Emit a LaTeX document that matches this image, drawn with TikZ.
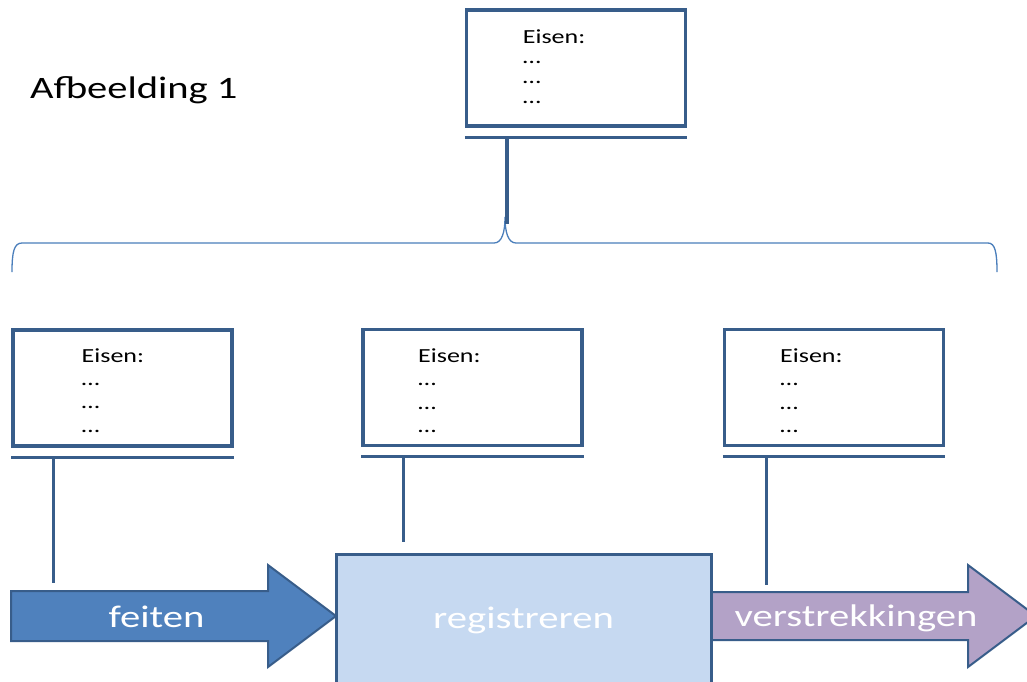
\documentclass[tikz,border=0pt]{standalone}
\usepackage{fontspec}
\setmainfont{Carlito}[FakeStretch=1.3]
\definecolor{edge}{HTML}{385D8A}
\definecolor{bracec}{HTML}{4A7EBB}
\definecolor{feitfill}{HTML}{4F81BD}
\definecolor{regfill}{HTML}{C6D9F1}
\definecolor{verfill}{HTML}{B3A2C7}
\begin{document}
\begin{tikzpicture}[x=1pt,y=-1pt,
  frame/.style={draw=edge,line width=3.2pt,fill=white,minimum width=219pt,minimum height=116pt,inner sep=0pt},
  bar/.style={draw=edge,line width=3pt},
  stem/.style={draw=edge,line width=3.2pt},
  txt/.style={anchor=base west,inner sep=0pt,font=\fontsize{20}{24}\selectfont},
  lbl/.style={anchor=base,inner sep=0pt,text=white,font=\fontsize{31.3}{37}\selectfont},
  arrowshape/.style={draw=edge,line width=2pt,line join=miter}]
\clip (0,0) rectangle (1027,681);
\fill[white] (0,0) rectangle (1027,681);

% title
\node[anchor=base west,inner sep=0pt,font=\fontsize{31.2}{37}\selectfont] (title) at (30,98) {Afbeelding 1};

% brace
\draw[bracec,line width=1.3pt] (12,272) .. controls (12,252) and (14,243) .. (22,243) -- (494,243)
  .. controls (502,243) and (505,232) .. (505,217) .. controls (505,232) and (508,243) .. (516,243)
  -- (988,243) .. controls (995,243) and (997,252) .. (997,272);

% boxes
\node[frame] (top) at (576,68) {};
\node[frame] (b1) at (122.5,388) {};
\node[frame] (b2) at (472.5,387.5) {};
\node[frame] (b3) at (834,387.5) {};

% under-bars
\foreach \b in {top,b1,b2,b3}{
  \draw[bar] ([yshift=-9.5pt]\b.south west) -- ([yshift=-9.5pt]\b.south east);
}

% stems
\coordinate (c0) at ([xshift=42.5pt,yshift=-9.5pt]top.south west);
\coordinate (c1) at ([xshift=42pt,yshift=-9.5pt]b1.south west);
\coordinate (c2) at ([xshift=42pt,yshift=-9.5pt]b2.south west);
\coordinate (c3) at ([xshift=43.5pt,yshift=-9.5pt]b3.south west);
\coordinate (s0) at (0,224);
\coordinate (s1) at (0,583);
\coordinate (s2) at (0,542);
\coordinate (s3) at (0,585);
\draw[stem,line width=4pt] (c0) -- (c0 |- s0);
\draw[stem] (c1) -- (c1 |- s1);
\draw[stem] (c2) -- (c2 |- s2);
\draw[stem] (c3) -- (c3 |- s3);

% texts in boxes
\foreach \t [count=\i] in {Eisen:,…,…,…}{
  \node[txt] (t0-\i) at (522.7,{43.3+(\i-1)*20}) {\t};
  \node[txt] (t1-\i) at (81.5,{362+(\i-1)*23.4}) {\t};
  \node[txt] (t2-\i) at (418,{362.5+(\i-1)*23.4}) {\t};
  \node[txt] (t3-\i) at (780,{362.5+(\i-1)*23.4}) {\t};
}

% arrows
\draw[arrowshape,fill=feitfill] (11,591) -- (268,591) -- (268,565) -- (336,616) -- (268,667) -- (268,641) -- (11,641) -- cycle;
\draw[arrowshape,fill=verfill] (700,592) -- (968,592) -- (968,565) -- (1036,616) -- (968,667) -- (968,640) -- (700,640) -- cycle;
\node[draw=edge,fill=regfill,line width=3pt,minimum width=375pt,minimum height=200pt,inner sep=0pt] (reg) at (524,654) {};

\node[lbl] (feiten) at (156.5,627.5) {feiten};
\node[lbl] (regt) at (523.5,628) {registreren};
\node[lbl] (vers) at (856,626.5) {verstrekkingen};
\end{tikzpicture}
\end{document}
